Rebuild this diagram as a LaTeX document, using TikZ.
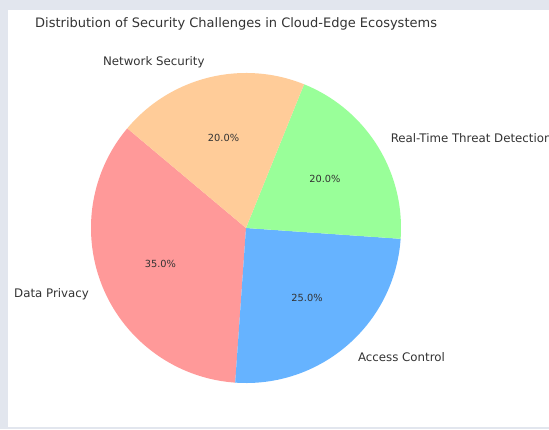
\documentclass[tikz,border=0pt]{standalone}
\usepackage{fontspec}
\setmainfont{DejaVu Sans}
\usetikzlibrary{calc}
\definecolor{dpcol}{HTML}{FF9999}
\definecolor{accol}{HTML}{66B3FF}
\definecolor{rtcol}{HTML}{99FF99}
\definecolor{nscol}{HTML}{FFCC99}
\definecolor{inkcol}{HTML}{333333}
\definecolor{backcol}{HTML}{E2E6EE}
\tikzset{
  lbl/.style={inner sep=0pt, text=inkcol, font=\fontsize{11.8}{14}\selectfont},
  pct/.style={inner sep=0pt, text=inkcol, font=\fontsize{9.8}{12}\selectfont},
  ttl/.style={inner sep=0pt, text=inkcol, font=\fontsize{13}{16}\selectfont},
}
\begin{document}
\begin{tikzpicture}[x=1pt,y=1pt]
  % page frame and white panel
  \fill[backcol] (0,0) rectangle (549,429);
  \fill[white] (8,2) rectangle (549,419);
  \useasboundingbox (0,0) rectangle (549,429);
  % pie centre
  \coordinate (c) at (246,201);
  \def\rad{155}
  \fill[dpcol] (c) -- ++(140:\rad) arc[start angle=140,end angle=266,radius=\rad] -- cycle;
  \fill[accol] (c) -- ++(266:\rad) arc[start angle=266,end angle=356,radius=\rad] -- cycle;
  \fill[rtcol] (c) -- ++(356:\rad) arc[start angle=356,end angle=428,radius=\rad] -- cycle;
  \fill[nscol] (c) -- ++(68:\rad) arc[start angle=68,end angle=140,radius=\rad] -- cycle;
  % category labels at 1.1 r
  \node[lbl, anchor=east] (ldp) at ($(c)+(203:170.5)$) {Data Privacy};
  \node[lbl, anchor=west] (lac) at ($(c)+(311:170.5)$) {Access Control};
  \node[lbl, anchor=west] (lrt) at ($(c)+(32:170.5)$) {Real-Time Threat Detection};
  \node[lbl, anchor=east] (lns) at ($(c)+(104:170.5)$) {Network Security};
  % percentages at 0.6 r
  \node[pct] (pdp) at ($(c)+(203:93)$) {35.0\%};
  \node[pct] (pac) at ($(c)+(311:93)$) {25.0\%};
  \node[pct] (prt) at ($(c)+(32:93)$) {20.0\%};
  \node[pct] (pns) at ($(c)+(104:93)$) {20.0\%};
  % title
  \node[ttl, anchor=base west] (title) at (35,401) {Distribution of Security Challenges in Cloud-Edge Ecosystems};
\end{tikzpicture}
\end{document}
